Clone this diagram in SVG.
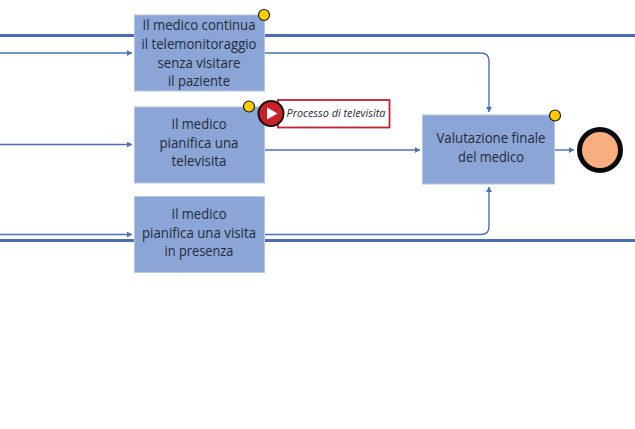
<svg xmlns="http://www.w3.org/2000/svg" width="635" height="429" viewBox="0 0 635 429">
<style>
.lane{stroke:#4a6cb0;stroke-width:3;fill:none}
.conn{stroke:#4a6fbc;stroke-width:1.4;fill:none}
.box{fill:#8aa5d6;stroke:#b4c6e6;stroke-width:1}
.dot{fill:#ffcc00;stroke:#1a1a1a;stroke-width:1.2}
text{font-family:"Open Sans","Noto Sans",sans-serif;font-size:14px;fill:#262b38;text-anchor:middle}
</style>
<defs>
<marker id="arrow" markerUnits="userSpaceOnUse" markerWidth="7" markerHeight="7" refX="5" refY="3" orient="auto"><path d="M0 0L5 3L0 6Z" fill="#4a6fbc"/></marker>
</defs>
<rect width="635" height="429" fill="#fff"/>
<g id="lanes">
<path class="lane" d="M0 35.5H635"/>
<path class="lane" d="M0 240.5H635"/>
</g>
<g id="connectors">
<path class="conn" marker-end="url(#arrow)" d="M0 53H132"/>
<path class="conn" marker-end="url(#arrow)" d="M0 144.5H132"/>
<path class="conn" marker-end="url(#arrow)" d="M0 234.5H132"/>
<path class="conn" marker-end="url(#arrow)" d="M264 53H481Q489 53 489 61V112"/>
<path class="conn" marker-end="url(#arrow)" d="M264 150H420"/>
<path class="conn" marker-end="url(#arrow)" d="M264 234.5H481Q489 234.5 489 226.5V187"/>
<path class="conn" marker-end="url(#arrow)" d="M555 150H574"/>
</g>
<g id="node-continua">
<rect class="box" x="134.5" y="15" width="130" height="76"/>
<text x="199" y="30" textLength="113" lengthAdjust="spacingAndGlyphs">Il medico continua</text>
<text x="199" y="49" textLength="115" lengthAdjust="spacingAndGlyphs">il telemonitoraggio</text>
<text x="199" y="68" textLength="83" lengthAdjust="spacingAndGlyphs">senza visitare</text>
<text x="199" y="86" textLength="62" lengthAdjust="spacingAndGlyphs">il paziente</text>
<circle class="dot" cx="264" cy="15" r="5.5"/>
</g>
<g id="node-televisita">
<rect class="box" x="134.5" y="107" width="130" height="76"/>
<text x="199" y="129" textLength="55" lengthAdjust="spacingAndGlyphs">Il medico</text>
<text x="199" y="148" textLength="79" lengthAdjust="spacingAndGlyphs">pianifica una</text>
<text x="199" y="166" textLength="55" lengthAdjust="spacingAndGlyphs">televisita</text>
<circle class="dot" cx="249" cy="106.5" r="5.5"/>
</g>
<g id="node-processo">
<rect x="278" y="100" width="111.5" height="27.5" fill="#fff" stroke="#c9202a" stroke-width="1.8"/>
<text x="336" y="117" textLength="99" lengthAdjust="spacingAndGlyphs" style="font-size:11px;font-style:italic">Processo di televisita</text>
<circle cx="271" cy="113.5" r="12.5" fill="#c9202a" stroke="#111" stroke-width="2"/>
<path d="M267 107.5L277.5 113.5L267 119.5Z" fill="#fff"/>
</g>
<g id="node-presenza">
<rect class="box" x="134.5" y="196.5" width="130" height="76"/>
<text x="199" y="219" textLength="55" lengthAdjust="spacingAndGlyphs">Il medico</text>
<text x="199" y="238" textLength="114" lengthAdjust="spacingAndGlyphs">pianifica una visita</text>
<text x="199" y="256" textLength="69" lengthAdjust="spacingAndGlyphs">in presenza</text>
</g>
<g id="node-valutazione">
<rect class="box" x="422.5" y="115" width="132" height="69"/>
<text x="491" y="143" textLength="109" lengthAdjust="spacingAndGlyphs">Valutazione finale</text>
<text x="491" y="162" textLength="66" lengthAdjust="spacingAndGlyphs">del medico</text>
<circle class="dot" cx="555" cy="115.5" r="5.5"/>
</g>
<g id="node-end">
<circle cx="600" cy="150" r="20.5" fill="#f9ae80" stroke="#0a0a0a" stroke-width="5"/>
</g>
</svg>
